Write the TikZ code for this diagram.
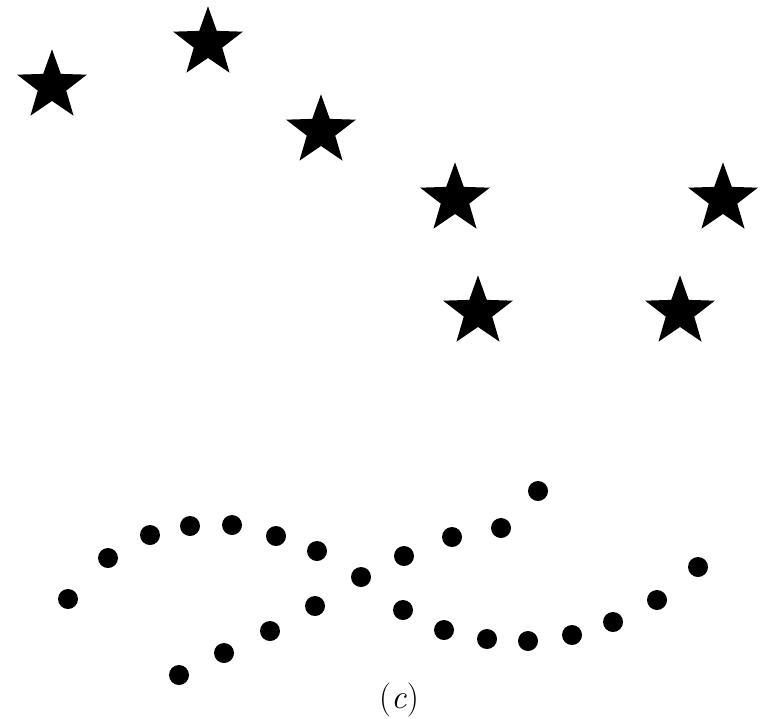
\documentclass[tikz,border=0pt]{standalone}
\usepackage{amsmath,amssymb}
\usepackage{fontspec}
\usepackage{tikz}
\usetikzlibrary{shapes.geometric}

\begin{document}
\begin{tikzpicture}[
    x=0.03cm, y=-0.03cm,
    starNode/.style={
        star,
        star points=5,
        star point ratio=2.45,
        fill=black,
        draw=none,
        inner sep=0pt,
        minimum size=2.2cm
    },
    dotNode/.style={
        circle,
        fill=black,
        draw=none,
        inner sep=0pt,
        minimum size=0.6cm
    }
]
    \useasboundingbox (0,0) rectangle (761,718);

    % --- Stars ---
    \node[starNode] (s1) at (52,86) {};
    \node[starNode] (s2) at (208,43) {};
    \node[starNode] (s3) at (321,131) {};
    \node[starNode] (s4) at (455,199) {};
    \node[starNode] (s5) at (723,199) {};
    \node[starNode] (s6) at (478,312) {};
    \node[starNode] (s7) at (680,312) {};

    % --- Upper row of dots ---
    \node[dotNode] (a1) at (68,599) {};
    \node[dotNode] (a2) at (108,558) {};
    \node[dotNode] (a3) at (150,535) {};
    \node[dotNode] (a4) at (190,526) {};
    \node[dotNode] (a5) at (232,525) {};
    \node[dotNode] (a6) at (276,536) {};
    \node[dotNode] (a7) at (317,551) {};
    \node[dotNode] (a8) at (361,577) {};
    \node[dotNode] (a9) at (404,556) {};
    \node[dotNode] (a10) at (452,537) {};
    \node[dotNode] (a11) at (501,528) {};
    \node[dotNode] (a12) at (538,491) {};

    % --- Lower row of dots ---
    \node[dotNode] (b1) at (179,675) {};
    \node[dotNode] (b2) at (224,653) {};
    \node[dotNode] (b3) at (270,631) {};
    \node[dotNode] (b4) at (315,606) {};
    \node[dotNode] (b5) at (403,610) {};
    \node[dotNode] (b6) at (444,630) {};
    \node[dotNode] (b7) at (487,639) {};
    \node[dotNode] (b8) at (528,641) {};
    \node[dotNode] (b9) at (572,635) {};
    \node[dotNode] (b10) at (613,622) {};
    \node[dotNode] (b11) at (657,600) {};
    \node[dotNode] (b12) at (698,567) {};

    % --- Caption ---
    \node[inner sep=0pt, font=\fontsize{29}{34}\selectfont] (caption) at (399,700) {(\textit{c})};
\end{tikzpicture}
\end{document}
